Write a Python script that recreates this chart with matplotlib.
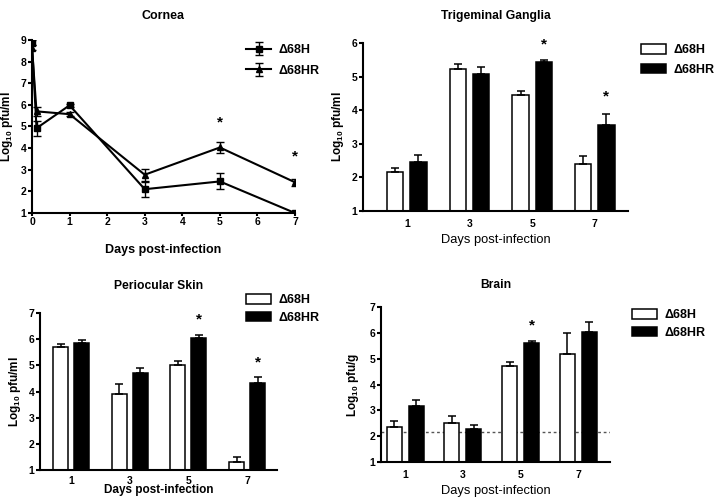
import numpy as np
import matplotlib
matplotlib.use("Agg")
import matplotlib.pyplot as plt

plt.rcParams["font.family"] = ["Liberation Sans", "DejaVu Sans"]
plt.rcParams["font.weight"] = "bold"
plt.rcParams["mathtext.fontset"] = "custom"
plt.rcParams["mathtext.rm"] = "Liberation Sans:bold"
plt.rcParams["mathtext.bf"] = "Liberation Sans:bold"
plt.rcParams["mathtext.default"] = "rm"

# cornea (line chart)
cornea_days = [0, 0.12, 1, 3, 5, 7]
cornea_h = [8.88, 4.92, 5.98, 2.1, 2.46, 1.0]
cornea_h_err = [0.1, 0.35, 0.08, 0.35, 0.37, 0.05]
cornea_hr = [8.65, 5.7, 5.57, 2.77, 4.03, 2.42]
cornea_hr_err = [0.1, 0.2, 0.08, 0.27, 0.25, 0.15]
cornea_stars = {5: 5.2, 7: 3.6}

# bar charts
days = ["1", "3", "5", "7"]
tg_h = [2.17, 5.24, 4.45, 2.39]
tg_h_err = [0.12, 0.14, 0.11, 0.24]
tg_hr = [2.47, 5.08, 5.44, 3.55]
tg_hr_err = [0.21, 0.2, 0.04, 0.34]
tg_stars = {2: 5.95, 3: 4.4}

skin_h = [5.70, 3.89, 5.03, 1.32]
skin_h_err = [0.11, 0.38, 0.13, 0.19]
skin_hr = [5.86, 4.69, 6.06, 4.31]
skin_hr_err = [0.1, 0.21, 0.11, 0.25]
skin_stars = {2: 6.75, 3: 5.12}

brain_h = [2.35, 2.5, 4.72, 5.17]
brain_h_err = [0.23, 0.27, 0.15, 0.83]
brain_hr = [3.15, 2.29, 5.6, 6.03]
brain_hr_err = [0.26, 0.16, 0.08, 0.39]
brain_stars = {2: 6.3}
brain_limit = 2.15

labels = ["\u039468H", "\u039468HR"]

W, H = 716, 498
fig = plt.figure(figsize=(W / 100, H / 100), dpi=100)


def box(l, t, r, b):
    return [l / W, 1 - b / H, (r - l) / W, (b - t) / H]


def style(ax, ylim):
    for s in ["top", "right"]:
        ax.spines[s].set_visible(False)
    for s in ["left", "bottom"]:
        ax.spines[s].set_linewidth(1.5)
    ax.set_ylim(*ylim)
    ax.set_yticks(range(ylim[0], ylim[1] + 1))
    ax.tick_params(axis="y", direction="out", length=3, width=1.5, labelsize=7.5, pad=1)
    ax.tick_params(axis="x", labelsize=7.5)


def bars(ax, h, h_err, hr, hr_err, stars, xlim, off, width, pad=6):
    x = np.arange(len(days))
    ax.bar(x - off, h, width, color="white", edgecolor="black", linewidth=1.1,
           yerr=[np.zeros(4), h_err], capsize=3, error_kw=dict(elinewidth=1.1, capthick=1.1),
           label=labels[0])
    ax.bar(x + off, hr, width, color="black", edgecolor="black", linewidth=1.1,
           yerr=[np.zeros(4), hr_err], capsize=3, error_kw=dict(elinewidth=1.1, capthick=1.1),
           label=labels[1])
    for i, y in stars.items():
        ax.text(x[i] + off, y, "*", ha="center", va="center", fontsize=11, fontweight="bold")
    ax.set_xticks(x)
    ax.set_xticklabels(days)
    ax.tick_params(axis="x", length=0, pad=pad)
    ax.set_xlim(*xlim)


def legend(ax, x, y, spacing):
    ax.legend(loc="upper left", bbox_to_anchor=(x / W, 1 - y / H), bbox_transform=fig.transFigure,
              frameon=False, fontsize=9, handlelength=2.0, handleheight=0.8,
              handletextpad=0.6, labelspacing=spacing, borderaxespad=0)


# Cornea
ax1 = fig.add_axes(box(32, 40, 295, 213))
ax1.errorbar(cornea_days, cornea_h, yerr=cornea_h_err, color="black", marker="s",
             markersize=5, linewidth=1.5, capsize=3, elinewidth=1, label=labels[0])
ax1.errorbar(cornea_days, cornea_hr, yerr=cornea_hr_err, color="black", marker="^",
             markersize=5, linewidth=1.5, capsize=3, elinewidth=1, label=labels[1])
for d, y in cornea_stars.items():
    ax1.text(d, y, "*", ha="center", va="center", fontsize=11, fontweight="bold")
style(ax1, (1, 9))
ax1.set_xlim(0, 7)
ax1.set_xticks(range(0, 8))
ax1.tick_params(axis="x", direction="out", length=2, width=1.5, pad=1)
ax1.set_title("Cornea", fontsize=9, fontweight="bold", pad=15)
ax1.set_xlabel("Days post-infection", fontsize=9, fontweight="bold", labelpad=12)
ax1.set_ylabel("Log$_{10}$ pfu/ml", fontsize=8.5, fontweight="bold", labelpad=4)
legend(ax1, 241, 39, 0.7)

# Trigeminal Ganglia
ax2 = fig.add_axes(box(363, 43, 628, 211))
bars(ax2, tg_h, tg_h_err, tg_hr, tg_hr_err, tg_stars, (-0.7, 3.53), 0.185, 0.26)
style(ax2, (1, 6))
ax2.set_title("Trigeminal Ganglia", fontsize=8.7, fontweight="bold", pad=17)
ax2.set_xlabel("Days post-infection", fontsize=9.3, fontweight="normal", labelpad=3)
ax2.set_ylabel("Log$_{10}$ pfu/ml", fontsize=8.5, fontweight="bold", labelpad=4)
legend(ax2, 636, 39, 0.6)

# Periocular Skin
ax3 = fig.add_axes(box(40, 313, 277, 470))
bars(ax3, skin_h, skin_h_err, skin_hr, skin_hr_err, skin_stars, (-0.53, 3.51), 0.18, 0.255, pad=4)
style(ax3, (1, 7))
ax3.set_title("Periocular Skin", fontsize=8.7, fontweight="bold", pad=17)
ax3.set_xlabel("Days post-infection", fontsize=8.5, fontweight="bold", labelpad=-1)
ax3.set_ylabel("Log$_{10}$ pfu/ml", fontsize=8.5, fontweight="bold", labelpad=4)
legend(ax3, 241, 289, 0.45)

# Brain
ax4 = fig.add_axes(box(381, 307, 610, 462))
bars(ax4, brain_h, brain_h_err, brain_hr, brain_hr_err, brain_stars, (-0.42, 3.55), 0.19, 0.26)
ax4.axhline(brain_limit, color="#555555", linestyle=(0, (2, 2)), linewidth=1, zorder=0.5)
style(ax4, (1, 7))
ax4.set_title("Brain", fontsize=8.7, fontweight="bold", pad=14)
ax4.set_xlabel("Days post-infection", fontsize=9.3, fontweight="normal", labelpad=3)
ax4.set_ylabel("Log$_{10}$ pfu/g", fontsize=8.5, fontweight="bold", labelpad=6)
legend(ax4, 627, 304, 0.45)

fig.savefig("out.png", dpi=100)
